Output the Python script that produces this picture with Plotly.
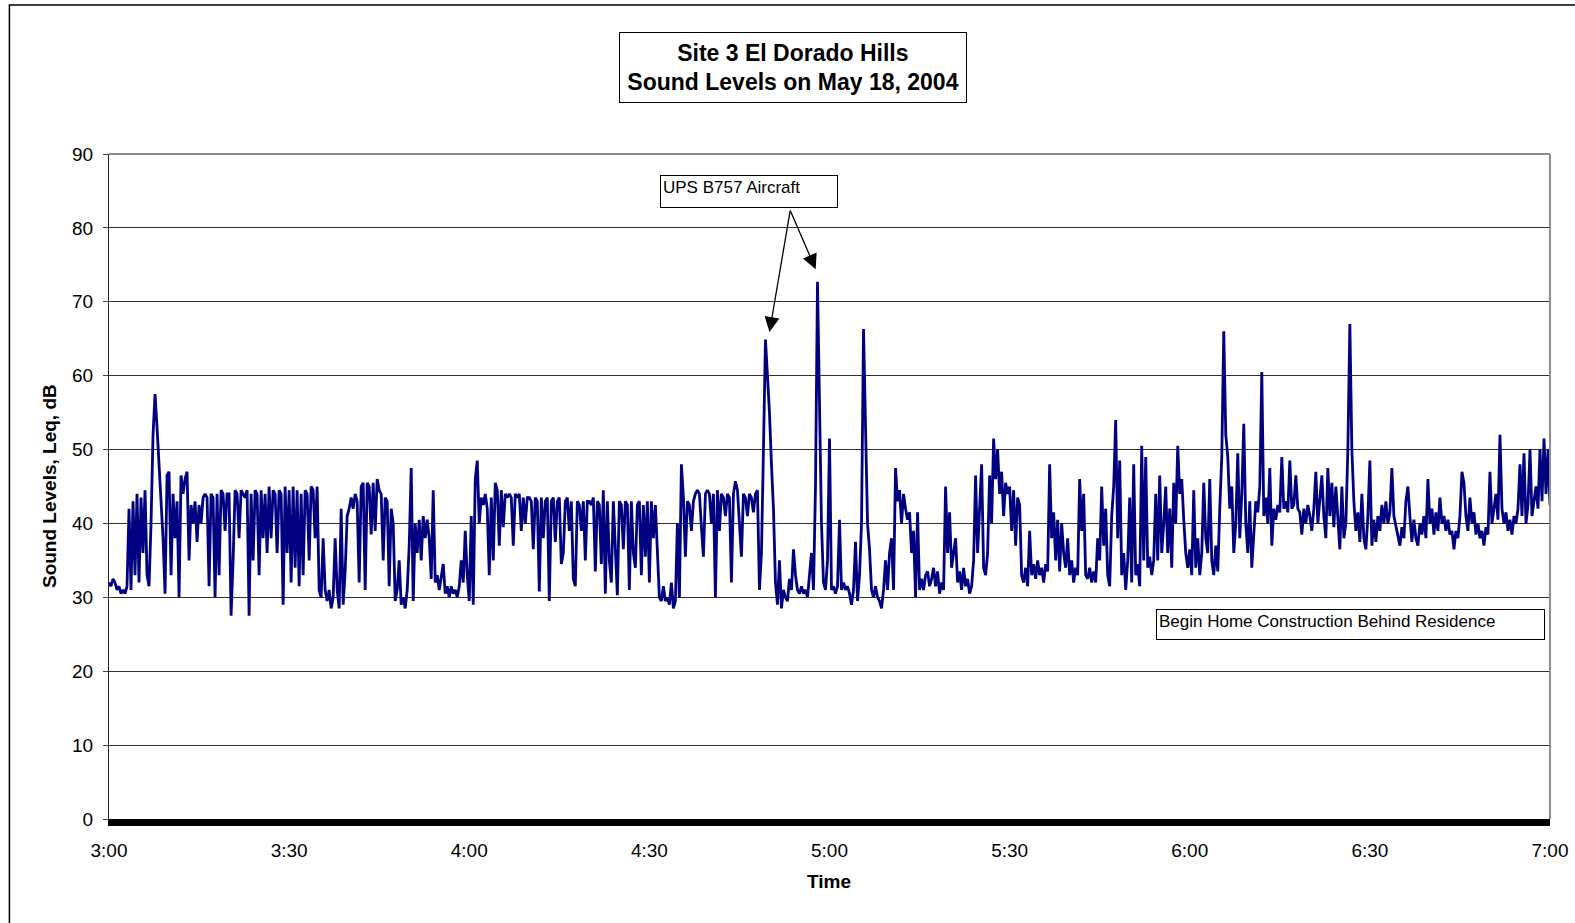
import plotly.graph_objects as go

# ---------------- data ----------------
SAMPLE_STEP_MIN = 1.0 / 3.0   # one reading every 20 seconds, starting 3:00

leq_0300_0330 = [
    32, 31.5, 32.5, 32, 31, 31.5, 30.5, 31, 30.5, 31.5, 42, 31, 43, 33, 44, 32, 43.5, 36, 44.5, 33,
    31.5, 40, 52, 57.5, 53, 48, 42, 38, 30.5, 46.5,
    47, 33, 44, 38, 43, 30, 46.5, 44, 46, 47, 35, 42.5, 40, 43, 37.5, 42.5, 40, 43.5, 44, 43.5,
    31.5, 44, 43.5, 30, 44, 33, 44.5, 44, 39, 44,
    44, 27.5, 35, 44.5, 44, 38, 44.5, 44, 43.5, 44.5, 27.5, 44, 35, 44.5, 44, 33, 44.5, 38, 44, 36,
    45, 38, 44.5, 44, 36, 44.5, 44, 29, 45, 36,
]
leq_0330_0400 = [
    44.5, 32, 45, 34, 44.5, 31.5, 44, 33, 44.5, 44, 35, 45, 44.5, 38, 45, 31, 30, 38, 31, 29.5,
    31, 28.5, 30, 38, 31, 28.5, 42, 29, 33.5, 41,
    42, 43.5, 42, 44, 43, 32, 45, 45.5, 31, 45.5, 45, 38.5, 45.5, 39, 46, 44.5, 44, 35, 43.5, 43,
    31.5, 42, 40, 29.5, 31, 35, 29, 30, 28.5, 31,
    37, 47.5, 29.5, 40, 36, 40.5, 35, 41, 38, 40.5, 38, 32.5, 44.5, 32, 33, 31, 32.5, 34.5, 30.5, 31.5,
    30, 31.5, 30.5, 31, 30, 31.5, 35, 32, 39, 33,
]
leq_0400_0430 = [
    29.5, 41, 29, 46, 48.5, 40, 43.5, 42.5, 44, 42, 33, 43.5, 35, 45.5, 44.5, 37, 44.5, 39.5, 44, 43.5,
    44, 43.5, 37, 44, 43.5, 44, 39, 43.5, 40, 43.5,
    43.5, 43, 36.5, 43.5, 43, 30.8, 43.5, 38, 43, 43.5, 29.5, 43, 43.5, 37.5, 43, 43.5, 34.5, 36, 43, 43.5,
    39, 43, 32.5, 31.5, 43, 42.5, 39, 43, 35, 43,
    43, 42.5, 43.5, 33.5, 43, 42.5, 34.5, 44.5, 30.5, 43, 35, 32, 43, 37, 30.3, 43, 42.5, 36.5, 43, 42.5,
    31, 43, 36, 34, 42.5, 43, 33, 42.5, 35.5, 43,
]
leq_0430_0500 = [
    32, 43, 38, 42.5, 36, 30, 29.5, 31.5, 29.5, 30, 29, 32, 28.5, 29.5, 40, 30, 48, 43.5, 35.5, 43,
    42.5, 39, 43, 44, 44.5, 44, 39.5, 35.5, 44, 44.5,
    44, 40, 44, 30, 44.5, 39, 44, 43.5, 41, 44, 43.5, 32, 44, 45.7, 44.5, 40, 35.5, 44, 43.5, 41,
    44, 43.5, 41.5, 44, 44.5, 31, 36, 50, 64.9, 60,
    55, 48, 42, 32, 29, 35, 28.5, 31, 30, 29.5, 32.5, 31, 36.5, 33, 31, 30.5, 31.5, 30.5, 31, 30,
    33, 36, 31, 45, 72.7, 55, 40, 32, 31, 35,
]
leq_0500_0530 = [
    51.5, 31, 31.5, 30.5, 31.5, 40.5, 31, 32, 31, 31.5, 30.5, 29, 31, 37.5, 29.5, 33, 40, 66.3, 52, 40,
    36.5, 31, 30, 31.5, 30, 29.5, 28.5, 31, 35, 31,
    36, 38, 31, 47.5, 43, 44.5, 40, 44, 42, 40.5, 41.5, 36, 39, 30, 41.5, 31, 32.5, 31, 33, 33.5,
    31.5, 32.5, 34, 31.5, 33.5, 30.5, 32, 31, 45, 36,
    41.5, 34, 36, 38, 32, 33.5, 31, 34, 31.5, 32.5, 30.5, 31.5, 35, 46.5, 36, 43, 48, 34, 33, 36,
    46.5, 40, 51.5, 46, 50, 44, 47, 41, 45.5, 44,
]
leq_0530_0600 = [
    45, 39, 44.5, 37, 43.5, 42.5, 33, 32, 34, 31.5, 39, 33, 34.5, 32.5, 35, 33, 34, 32, 34.5, 33.5,
    48, 38, 41.5, 35, 40.5, 33.5, 40, 36, 34, 38,
    33, 35, 32, 34, 33, 46, 39, 44, 33, 32.5, 34, 32, 33.5, 32, 38, 35, 45, 37, 42, 33,
    31.5, 41, 45, 54, 38, 48.5, 33, 36, 31, 35,
    43.5, 32, 48, 33, 34.5, 31.5, 50.5, 35, 49, 34, 35.5, 33, 35, 44, 35, 46.5, 36, 40, 45, 36,
    42, 34, 45.5, 40, 50.5, 44, 46, 40.5, 36, 34,
]
leq_0600_0630 = [
    36.5, 33, 44.5, 34, 38, 33, 36, 45.5, 38, 36, 46, 35, 33, 37, 33.5, 42, 49, 66, 52, 49,
    42, 45, 36, 40, 49.5, 38, 44, 53.5, 40, 36,
    43, 34, 38, 43, 41.5, 45, 60.5, 41, 43.5, 40, 47.5, 37, 42, 40.5, 42.5, 41.5, 49, 42, 43, 41.5,
    48.5, 42, 42.5, 46.5, 42, 41.5, 38.5, 42, 40, 42.5,
    41, 39, 42, 47, 40, 44, 46.5, 41, 38, 47.5, 41, 45.5, 39.5, 45, 40, 36.5, 45, 38, 40, 50,
    67, 50, 43, 39, 41.5, 37.5, 44, 38, 36.5, 41,
]
leq_0630_0700 = [
    48.5, 37, 40.5, 37.5, 41, 39, 42.5, 40, 43, 40, 41.5, 47.5, 41, 39.5, 38, 37, 39.5, 38, 43, 45,
    41, 37.5, 40.5, 38, 37, 40, 38.5, 41, 38, 46,
    40, 42, 38.5, 41.5, 39, 43.5, 40, 41, 39, 40.5, 38.5, 39, 36.5, 39, 38, 41, 47, 45.5, 41, 39,
    43.5, 40, 41.5, 38.5, 40, 38, 39, 37, 39.5, 38.5,
    47, 40, 42, 44, 40.5, 52, 42, 40, 41.5, 39, 40.5, 38.5, 41, 40, 42, 48, 41, 49.5, 40, 42.5,
    50, 41, 43, 45, 42, 50, 43, 51.5, 44, 50, 42.5,
]

leq_db = (leq_0300_0330 + leq_0330_0400 + leq_0400_0430 + leq_0430_0500
          + leq_0500_0530 + leq_0530_0600 + leq_0600_0630 + leq_0630_0700)
minutes_after_3 = [i * SAMPLE_STEP_MIN for i in range(len(leq_db))]

tick_minutes = [0, 30, 60, 90, 120, 150, 180, 210, 240]
tick_labels = ["3:00", "3:30", "4:00", "4:30", "5:00", "5:30", "6:00", "6:30", "7:00"]
y_ticks = [0, 10, 20, 30, 40, 50, 60, 70, 80, 90]

FONT = "Liberation Sans, Arial, sans-serif"

fig = go.Figure()
fig.add_trace(go.Scatter(
    x=minutes_after_3, y=leq_db, mode="lines",
    line=dict(color="#000080", width=2.8), showlegend=False,
))

fig.update_layout(
    width=1575, height=923, autosize=False,
    margin=dict(l=109, r=25, t=154, b=104, pad=0, autoexpand=False),
    paper_bgcolor="white", plot_bgcolor="white",
    font=dict(family=FONT, color="black", size=19),
    showlegend=False,
    xaxis=dict(
        range=[0, 240], tickvals=tick_minutes, ticktext=tick_labels,
        showgrid=False, zeroline=False, showline=True, linecolor="black", linewidth=7,
        ticks="", tickfont=dict(family=FONT, size=19, color="black"),
        ticklabelstandoff=8, automargin=False,
    ),
    yaxis=dict(
        range=[0, 90], tickvals=y_ticks,
        showgrid=True, gridcolor="#303030", gridwidth=1, zeroline=False,
        showline=True, linecolor="#222222", linewidth=1,
        ticks="outside", ticklen=5, tickcolor="#444444",
        tickfont=dict(family=FONT, size=19, color="black"),
        ticklabelstandoff=6, automargin=False,
    ),
)

# plot-area frame on the top and right (gray, as in the reference)
fig.add_shape(type="line", xref="paper", yref="paper", x0=1, x1=1, y0=0, y1=1,
              line=dict(color="#8c8c8c", width=2))
fig.add_shape(type="line", xref="paper", yref="paper", x0=0, x1=1, y0=1, y1=1,
              line=dict(color="#8c8c8c", width=2))
# outer chart border
fig.add_shape(type="rect", xref="paper", yref="paper",
              x0=-0.0691, x1=1.03, y0=-0.18, y1=1.2241,
              line=dict(color="black", width=1.5), fillcolor="rgba(0,0,0,0)")

# title box
fig.add_annotation(
    xref="paper", yref="paper", x=0.4747, y=1.1301, xanchor="center", yanchor="middle",
    text="<b>Site 3 El Dorado Hills<br>Sound Levels on May 18, 2004</b>",
    font=dict(family=FONT, size=23, color="black"), showarrow=False,
    bordercolor="black", borderwidth=1, borderpad=0, width=346, height=69,
    bgcolor="white", align="center",
)

# axis titles
fig.add_annotation(
    xref="paper", yref="paper", x=-0.0409, y=0.5008, xanchor="center", yanchor="middle",
    text="<b>Sound Levels, Leq, dB</b>", textangle=-90, showarrow=False,
    font=dict(family=FONT, size=19, color="black"),
)
fig.add_annotation(
    xref="paper", yref="paper", x=0.4997, y=-0.0943, xanchor="center", yanchor="middle",
    text="<b>Time</b>", showarrow=False, font=dict(family=FONT, size=19, color="black"),
)

# callout boxes
fig.add_annotation(
    xref="paper", yref="paper", x=0.4441, y=0.9436, xanchor="center", yanchor="middle",
    text="UPS B757 Aircraft", showarrow=False, align="left", valign="top",
    font=dict(family=FONT, size=17, color="black"),
    bordercolor="black", borderwidth=1, borderpad=2, width=172, height=27, bgcolor="white",
)
fig.add_annotation(
    xref="paper", yref="paper", x=0.8616, y=0.2925, xanchor="center", yanchor="middle",
    text="Begin Home Construction Behind Residence", showarrow=False, align="left", valign="top",
    font=dict(family=FONT, size=17, color="black"),
    bordercolor="black", borderwidth=1, borderpad=2, width=383, height=25, bgcolor="white",
)

# arrows to the two aircraft events
for tip_x, tip_y, dx, dy in [(110.0, 65.9, 21, -123), (117.7, 74.4, -26, -60)]:
    fig.add_annotation(
        x=tip_x, y=tip_y, xref="x", yref="y", text="", showarrow=True,
        ax=dx, ay=dy, axref="pixel", ayref="pixel",
        arrowhead=2, arrowsize=2.3, arrowwidth=1.3, arrowcolor="black", standoff=0,
    )

fig.write_html("out.html", config={"displayModeBar": False},
               post_script="document.body.style.margin='0px';")
